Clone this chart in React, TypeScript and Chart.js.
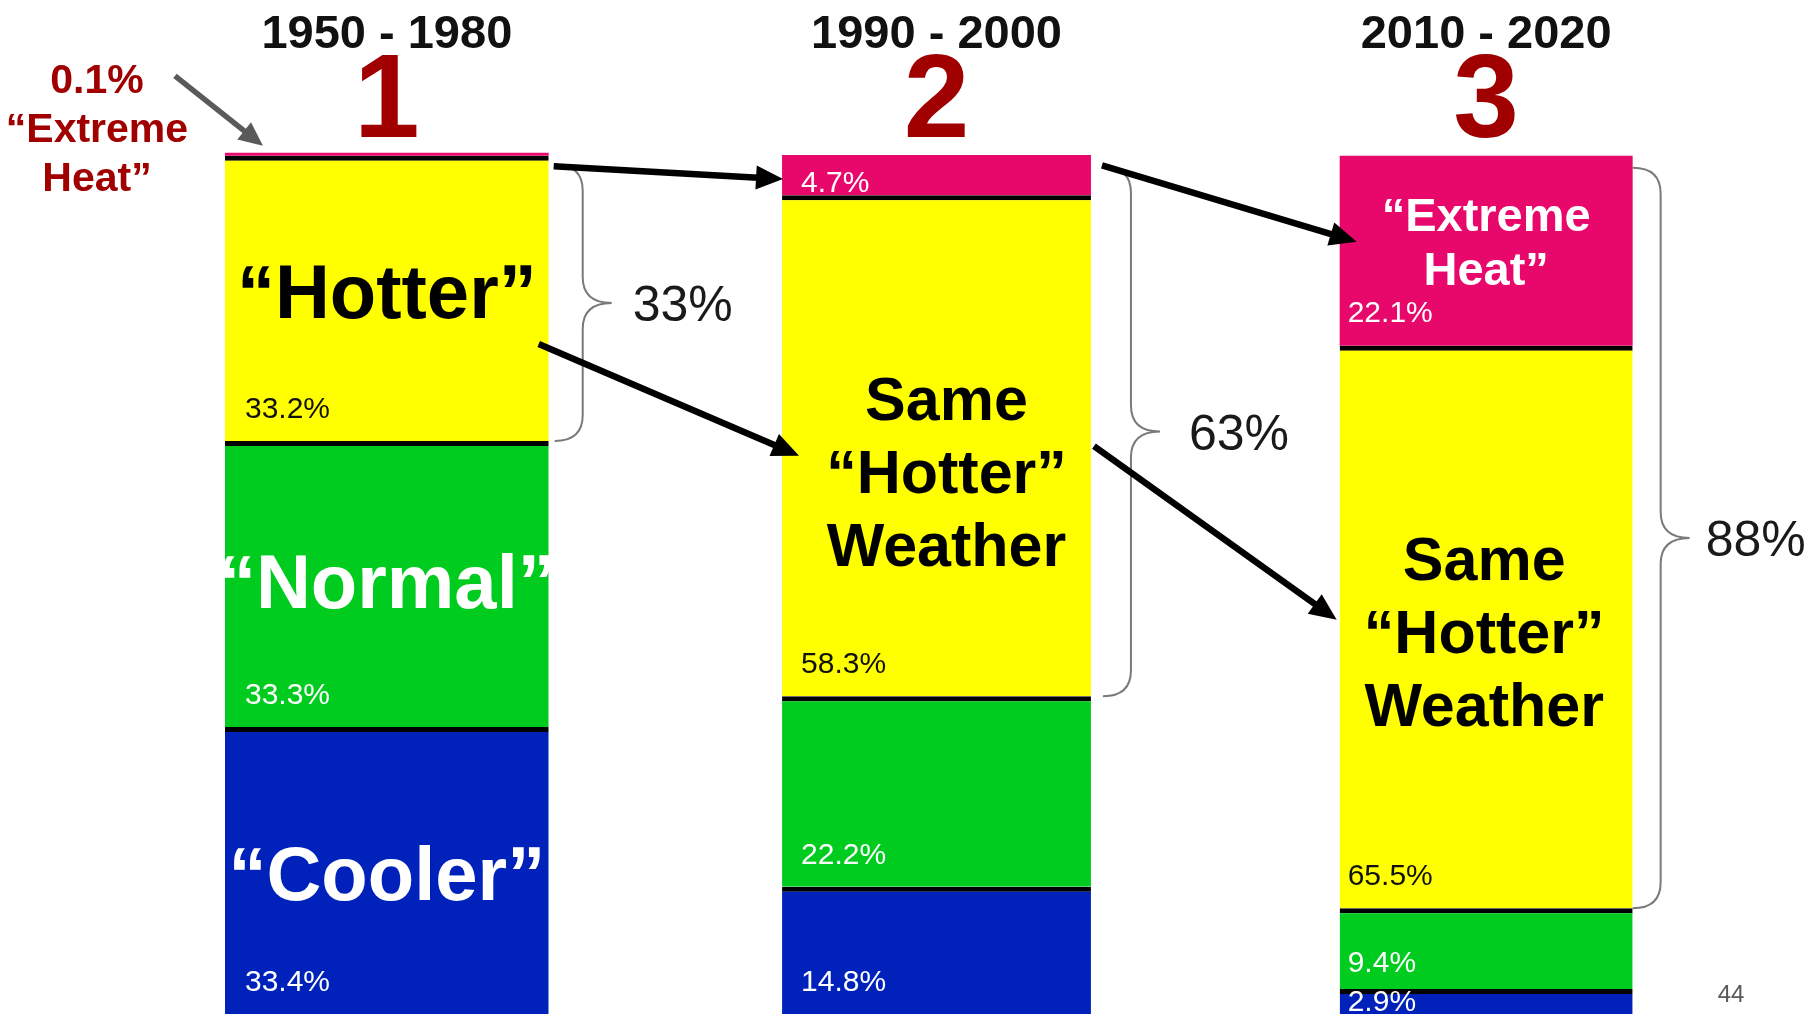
import React, { useEffect, useRef } from "react";
import { Chart, registerables } from "chart.js";

Chart.register(...registerables);

// ---------- data ----------
const periods = ["1950 - 1980", "1990 - 2000", "2010 - 2020"];
const periodNumbers = ["1", "2", "3"];
const extremeHeat = [0.1, 4.7, 22.1];
const hotter = [33.2, 58.3, 65.5];
const normal = [33.3, 22.2, 9.4];
const cooler = [33.4, 14.8, 2.9];
const seriesNames = ["Extreme Heat", "Hotter", "Normal", "Cooler"];
const pageNumber = "44";

// captions written inside segments
const segmentCaptions = [
  { bar: 0, series: "hotter", lines: ["\u201cHotter\u201d"] },
  { bar: 0, series: "normal", lines: ["\u201cNormal\u201d"] },
  { bar: 0, series: "cooler", lines: ["\u201cCooler\u201d"] },
  { bar: 1, series: "hotter", lines: ["Same", "\u201cHotter\u201d", "Weather"] },
  { bar: 2, series: "hotter", lines: ["Same", "\u201cHotter\u201d", "Weather"] },
  { bar: 2, series: "extreme", lines: ["\u201cExtreme", "Heat\u201d"] },
];
const sideNoteLines = ["\u201cExtreme", "Heat\u201d"];

// ---------- styles ----------
const FONT = '"Liberation Sans", Arial, Helvetica, sans-serif';
const COLORS: Record<string, string> = {
  extreme: "#E8076A",
  hotter: "#FFFF00",
  normal: "#00CC1F",
  cooler: "#0022BB",
};
const DARK_RED = "#A00000";
const barShare = [0.589, 0.562, 0.533]; // bar width relative to its category slot
const captionStyle: Record<string, { size: number; color: string; lh: number; dx: number; dy: number }> = {
  "0-hotter": { size: 76, color: "#000", lh: 0, dx: 0, dy: -8 },
  "0-normal": { size: 76, color: "#fff", lh: 0, dx: 0, dy: -3 },
  "0-cooler": { size: 76, color: "#fff", lh: 0, dx: 0, dy: 2 },
  "1-hotter": { size: 61, color: "#000", lh: 73, dx: 10, dy: 25 },
  "2-hotter": { size: 61, color: "#000", lh: 73, dx: -2, dy: 4 },
  "2-extreme": { size: 47, color: "#fff", lh: 54, dx: 0, dy: -10 },
};
const labelInset = [20, 19, 8];
const braceOffset = [6, 12, 0];
const braceLabelGap = [21, 29, 16];
const arrowSpecs = [
  { from: { bar: 0, side: "right", dx: 5, v: 98.7 }, to: { bar: 1, side: "left", dx: 1, v: 97.2 } },
  { from: { bar: 0, side: "right", dx: -10, v: 78.0 }, to: { bar: 1, side: "left", dx: 17, v: 65.0 } },
  { from: { bar: 1, side: "right", dx: 11, v: 98.8 }, to: { bar: 2, side: "left", dx: 17, v: 89.9 } },
  { from: { bar: 1, side: "right", dx: 3, v: 66.1 }, to: { bar: 2, side: "left", dx: -3, v: 45.9 } },
];

const seriesKeys = ["cooler", "normal", "hotter", "extreme"];
const seriesData: Record<string, number[]> = { extreme: extremeHeat, hotter, normal, cooler };
const seriesLabel: Record<string, string> = {
  extreme: seriesNames[0],
  hotter: seriesNames[1],
  normal: seriesNames[2],
  cooler: seriesNames[3],
};

function drawArrow(
  ctx: CanvasRenderingContext2D,
  x1: number, y1: number, x2: number, y2: number,
  color: string, lw: number, headLen: number, headW: number
) {
  const ang = Math.atan2(y2 - y1, x2 - x1);
  const bx = x2 - Math.cos(ang) * headLen;
  const by = y2 - Math.sin(ang) * headLen;
  ctx.save();
  ctx.strokeStyle = color;
  ctx.fillStyle = color;
  ctx.lineWidth = lw;
  ctx.lineCap = "butt";
  ctx.beginPath();
  ctx.moveTo(x1, y1);
  ctx.lineTo(bx + Math.cos(ang) * 2, by + Math.sin(ang) * 2);
  ctx.stroke();
  const px = -Math.sin(ang) * headW / 2;
  const py = Math.cos(ang) * headW / 2;
  ctx.beginPath();
  ctx.moveTo(x2, y2);
  ctx.lineTo(bx + px, by + py);
  ctx.lineTo(bx - px, by - py);
  ctx.closePath();
  ctx.fill();
  ctx.restore();
}

function drawBrace(ctx: CanvasRenderingContext2D, x0: number, yTop: number, yBot: number) {
  const r1 = 28;
  const r2 = 29;
  const rv = 26;
  const xv = x0 + r1;
  const xt = xv + r2;
  const ym = (yTop + yBot) / 2;
  ctx.save();
  ctx.strokeStyle = "#7a7a7a";
  ctx.lineWidth = 2;
  ctx.beginPath();
  ctx.moveTo(x0, yTop);
  ctx.quadraticCurveTo(xv, yTop, xv, yTop + rv);
  ctx.lineTo(xv, ym - rv);
  ctx.quadraticCurveTo(xv, ym, xt, ym);
  ctx.quadraticCurveTo(xv, ym, xv, ym + rv);
  ctx.lineTo(xv, yBot - rv);
  ctx.quadraticCurveTo(xv, yBot, x0, yBot);
  ctx.stroke();
  ctx.restore();
  return { xt, ym };
}

const dsIndex = (key: string, bi: number) => seriesKeys.indexOf(key) * periods.length + bi;

const overlayPlugin = {
  id: "overlay",
  afterDatasetsDraw(chart: any) {
    const ctx: CanvasRenderingContext2D = chart.ctx;
    const yScale = chart.scales.y;
    const el = (key: string, bi: number) => chart.getDatasetMeta(dsIndex(key, bi)).data[bi] as any;
    const box = (bi: number) => {
      const e = el("cooler", bi);
      const tops = seriesKeys.map((k) => el(k, bi).y);
      return { left: e.x - e.width / 2, right: e.x + e.width / 2, cx: e.x, top: Math.min(...tops) };
    };

    ctx.save();
    // headings and big numbers
    periods.forEach((p, bi) => {
      const b = box(bi);
      ctx.textAlign = "center";
      ctx.textBaseline = "alphabetic";
      ctx.fillStyle = "#111";
      ctx.font = `bold 47px ${FONT}`;
      ctx.fillText(p, b.cx, 48);
      ctx.fillStyle = DARK_RED;
      ctx.font = `bold 118px ${FONT}`;
      ctx.fillText(periodNumbers[bi], b.cx, 137);
    });

    // percentage labels
    seriesKeys.forEach((k) => {
      seriesData[k].forEach((v, bi) => {
        if (k === "extreme" && bi === 0) return;
        const e = el(k, bi);
        const h = Math.abs(e.base - e.y);
        const off = Math.max(14, Math.min(34, h * 0.35));
        const b = box(bi);
        ctx.font = `30px ${FONT}`;
        ctx.textAlign = "left";
        ctx.textBaseline = "alphabetic";
        ctx.fillStyle = k === "hotter" ? "#111" : "#fff";
        ctx.fillText(v.toFixed(1) + "%", b.left + labelInset[bi], e.base - off + 10.7);
      });
    });

    // captions inside segments
    segmentCaptions.forEach((c) => {
      const e = el(c.series, c.bar);
      const st = captionStyle[`${c.bar}-${c.series}`];
      const yc = (e.y + e.base) / 2 + st.dy;
      ctx.font = `bold ${st.size}px ${FONT}`;
      ctx.textAlign = "center";
      ctx.textBaseline = "alphabetic";
      ctx.fillStyle = st.color;
      const n = c.lines.length;
      c.lines.forEach((line, i) => {
        const ly = yc + (i - (n - 1) / 2) * st.lh;
        ctx.fillText(line, e.x + st.dx, ly + st.size * 0.358);
      });
    });

    // braces with totals of hot categories
    periods.forEach((_, bi) => {
      const b = box(bi);
      const hot = el("hotter", bi);
      const r = drawBrace(ctx, b.right + braceOffset[bi], b.top + 12, hot.base);
      ctx.font = `50px ${FONT}`;
      ctx.textAlign = "left";
      ctx.textBaseline = "alphabetic";
      ctx.fillStyle = "#1a1a1a";
      ctx.fillText(Math.round(extremeHeat[bi] + hotter[bi]) + "%", r.xt + braceLabelGap[bi], r.ym + 18);
    });

    // arrows between bars
    arrowSpecs.forEach((a) => {
      const fb = box(a.from.bar);
      const tb = box(a.to.bar);
      const x1 = (a.from.side === "right" ? fb.right : fb.left) + a.from.dx;
      const x2 = (a.to.side === "right" ? tb.right : tb.left) + a.to.dx;
      drawArrow(ctx, x1, yScale.getPixelForValue(a.from.v), x2, yScale.getPixelForValue(a.to.v), "#000", 6.5, 27, 24);
    });

    // side note for the tiny extreme-heat share in period 1
    const b0 = box(0);
    ctx.font = `bold 41px ${FONT}`;
    ctx.textAlign = "center";
    ctx.fillStyle = DARK_RED;
    const nx = b0.left - 128;
    const noteLines = [extremeHeat[0].toFixed(1) + "%", ...sideNoteLines];
    noteLines.forEach((t, i) => {
      ctx.fillText(t, nx, b0.top - 74 + i * 49 + 14.5);
    });
    drawArrow(ctx, b0.left - 50, b0.top - 77, b0.left + 38, b0.top - 7, "#5a5a5a", 5.5, 24, 22);

    // page number
    ctx.font = `24px ${FONT}`;
    ctx.textAlign = "center";
    ctx.fillStyle = "#595959";
    ctx.fillText(pageNumber, chart.width - 79, chart.height - 15);
    ctx.restore();
  },
};

// one dataset per (series, period) so each period's bar can keep its own width
const datasets = seriesKeys.flatMap((k) =>
  periods.map((p, bi) => ({
    label: `${seriesLabel[k]} (${p})`,
    data: periods.map((_, j) => (j === bi ? seriesData[k][bi] : null)),
    stack: "all",
    backgroundColor: COLORS[k],
    borderColor: "#000",
    borderWidth: k === "extreme" ? 0 : { top: 5, left: 0, right: 0, bottom: 0 },
    borderSkipped: false,
    minBarLength: k === "extreme" ? 3 : 0,
    barPercentage: barShare[bi],
    categoryPercentage: 1,
    clip: false,
  }))
);

export default function App() {
  const ref = useRef<HTMLCanvasElement>(null);
  useEffect(() => {
    const chart = new Chart(ref.current as HTMLCanvasElement, {
      type: "bar",
      data: { labels: periods, datasets: datasets as any },
      options: {
        responsive: false,
        animation: false,
        devicePixelRatio: 1,
        layout: { padding: { left: 112, right: 49, top: 155, bottom: 3 } },
        scales: {
          x: { display: false, stacked: true },
          y: { display: false, stacked: true, min: 0, max: 100 },
        },
        plugins: { legend: { display: false }, tooltip: { enabled: false } },
      } as any,
      plugins: [overlayPlugin],
    });
    return () => chart.destroy();
  }, []);
  return (
    <div style={{ position: "fixed", left: 0, top: 0, width: 1810, height: 1017, background: "#fff" }}>
      <canvas ref={ref} width={1810} height={1017} style={{ width: 1810, height: 1017, display: "block" }} />
    </div>
  );
}
